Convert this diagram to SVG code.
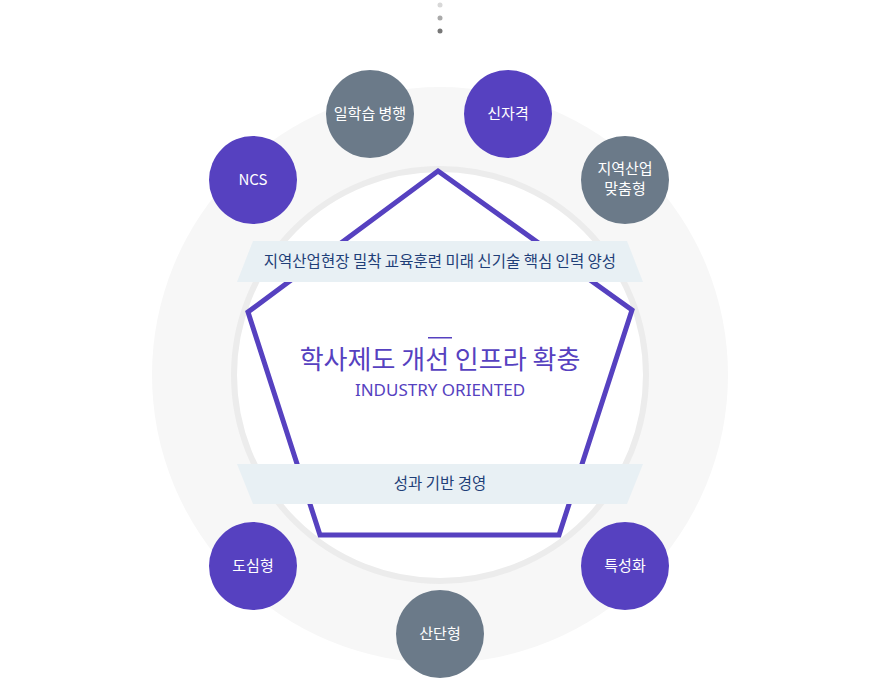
<svg xmlns="http://www.w3.org/2000/svg" width="880" height="696" viewBox="0 0 880 696">
<style>
.p{fill:#5641c0}.g{fill:#6b7a89}
.ct{font-family:"Noto Sans CJK KR","Noto Sans",sans-serif;font-size:15px;fill:#fff;text-anchor:middle}
.rb{fill:#e8f0f4}
.rt{font-family:"Noto Sans CJK KR",sans-serif;font-size:15.5px;fill:#1f3f78;text-anchor:middle}
</style>
<rect width="880" height="696" fill="#fff"/>
<circle cx="440" cy="5" r="2.5" fill="#d8d8d8"/>
<circle cx="440" cy="18" r="2.5" fill="#aaaaaa"/>
<circle cx="440" cy="31" r="2.5" fill="#777"/>
<circle cx="440" cy="375" r="288" fill="#f7f7f7"/>
<circle cx="440" cy="375" r="206" fill="#fff" stroke="#ececec" stroke-width="6"/>
<polygon points="438,171 632,310 559,535 320,535 248,312" fill="none" stroke="#5641c0" stroke-width="5" stroke-linejoin="miter"/>
<g id="ribbon-top"><polygon class="rb" points="253,241 627,241 643,282 237,282"/><text class="rt" x="440" y="267">지역산업현장 밀착 교육훈련 미래 신기술 핵심 인력 양성</text></g>
<g id="ribbon-bottom"><polygon class="rb" points="237,464 643,464 627,504 253,504"/><text class="rt" x="440" y="489">성과 기반 경영</text></g>
<g id="center">
<rect x="428" y="337" width="24" height="1.5" fill="#5641c0"/>
<text x="440" y="369" font-family="'Noto Sans CJK KR',sans-serif" font-size="26" fill="#5641c0" text-anchor="middle">학사제도 개선 인프라 확충</text>
<text x="440" y="396" font-family="'Noto Sans',sans-serif" font-size="17" fill="#5641c0" text-anchor="middle">INDUSTRY ORIENTED</text>
</g>
<g id="n-ncs"><circle class="p" cx="253" cy="180" r="44"/><text class="ct" x="253" y="185">NCS</text></g>
<g id="n-work"><circle class="g" cx="370" cy="114" r="44"/><text class="ct" x="370" y="119">일학습 병행</text></g>
<g id="n-new"><circle class="p" cx="508" cy="114" r="44"/><text class="ct" x="508" y="119">신자격</text></g>
<g id="n-region"><circle class="g" cx="625" cy="180" r="44"/><text class="ct" x="625" y="174">지역산업</text><text class="ct" x="625" y="194">맞춤형</text></g>
<g id="n-city"><circle class="p" cx="253" cy="566" r="44"/><text class="ct" x="253" y="571">도심형</text></g>
<g id="n-complex"><circle class="g" cx="440" cy="634" r="44"/><text class="ct" x="440" y="639">산단형</text></g>
<g id="n-special"><circle class="p" cx="625" cy="566" r="44"/><text class="ct" x="625" y="571">특성화</text></g>
<g id="connectors"/>
</svg>
